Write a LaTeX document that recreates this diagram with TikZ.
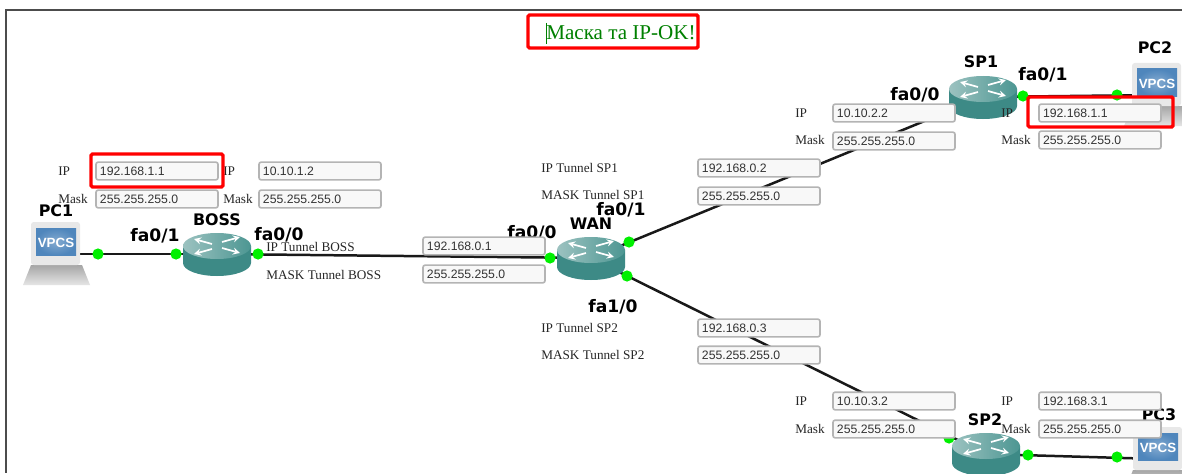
\documentclass[tikz,border=0pt]{standalone}
\usepackage{fontspec}
\setmainfont{Liberation Serif}
\newfontfamily\boxfont{Liberation Sans}
\newfontfamily\devfont{DejaVu Sans}
\usepackage{tikz}
\usetikzlibrary{positioning}
\definecolor{rtrteal}{HTML}{3D8A86}
\definecolor{rtrtop}{HTML}{9CC2C0}
\definecolor{rtredge}{HTML}{4C9692}
\definecolor{boxedge}{HTML}{B4B4B4}
\definecolor{boxfill}{HTML}{F8F8F8}
\definecolor{linkdot}{HTML}{00F000}
\definecolor{scrblue}{HTML}{4F86BC}
\definecolor{scrpale}{HTML}{8FB2D4}
\tikzset{
  link/.style={line width=2.5*0.71pt,black!90},
  portdot/.style={circle,fill=linkdot,inner sep=0pt,minimum size=0.28cm},
  valbox/.style={draw=boxedge,line width=1.6*0.71pt,fill=boxfill,rounded corners=1.5pt,
    minimum width=3.05cm,text width=2.85cm,minimum height=0.44cm,inner xsep=0.1cm,inner ysep=0pt,
    align=left,text=black!80,font=\boxfont\fontsize{8.7}{10}\selectfont},
  lbl/.style={anchor=west,inner sep=0pt,text=black!85,font=\fontsize{9.4}{11}\selectfont},
  port/.style={inner sep=0pt,font=\devfont\bfseries\fontsize{12.2}{14}\selectfont},
  devname/.style={inner sep=0pt,font=\devfont\bfseries\fontsize{11.3}{13}\selectfont},
  redbox/.style={draw=red,line width=3.4*0.71pt,rounded corners=1pt},
  rtrarrow/.style={draw=white,line width=1.7*0.71pt,-stealth}
}
\newcommand{\routericon}[1]{
\begin{scope}[shift={(#1)}]
\fill[rtrteal] (-34,-8) -- (-34,9) arc[start angle=180,end angle=0,x radius=34,y radius=13] -- (34,-8) -- cycle;
\shade[left color=rtrtop,right color=rtredge] (0,-8) ellipse [x radius=34,y radius=13];
\draw[rtrarrow] (-5,-10) -- (-23,-15);
\draw[rtrarrow] (5,-12) -- (23,-17);
\draw[rtrarrow] (-5,-5) -- (-23,0);
\draw[rtrarrow] (5,-6) -- (23,-1);
\end{scope}
}
\newcommand{\pcicon}[1]{
\begin{scope}[shift={(#1)}]
\shade[top color=black!35,bottom color=black!10] (-25,11) -- (-33,31) -- (34,31) -- (26,11) -- cycle;
\fill[black!9,rounded corners=2pt] (-25,-32) rectangle (24,11);
\shade[inner color=scrblue!70!white,outer color=scrblue] (-20,-26) rectangle (20,1);
\draw(0,-11) node[inner sep=0pt,text=white] {\boxfont\bfseries\fontsize{9.5}{11}\selectfont VPCS};
\end{scope}
}
\begin{document}
\begin{tikzpicture}[x=0.025cm,y=-0.025cm]
\clip (0,0) rectangle (1182,473);
\fill[white] (0,0) rectangle (1182,473);
\draw[black!70,line width=1.1pt] (1182,10) -- (6,10) -- (6,473);
% devices
\coordinate (pc1) at (56,254);
\coordinate (boss) at (217,254);
\coordinate (wan) at (591,258);
\coordinate (sp1) at (983,97);
\coordinate (sp2) at (986,454);
\coordinate (pc2) at (1157,95);
\coordinate (pc3) at (1158,459);
\draw[link] (pc1) -- (boss);
\draw[link] (boss) -- (wan);
\draw[link] (wan) -- (sp1);
\draw[link] (wan) -- (sp2);
\draw[link] (sp1) -- (pc2);
\draw[link] (sp2) -- (pc3);
\pcicon{pc1}
\pcicon{pc2}
\pcicon{pc3}
\routericon{boss}
\routericon{wan}
\routericon{sp1}
\routericon{sp2}
% ports
\draw(98,254) node[portdot] (d1) {};
\draw(176,254) node[portdot] (d2) {};
\draw(258,254) node[portdot] (d3) {};
\draw(550,258) node[portdot] (d4) {};
\draw(629,242) node[portdot] (d5) {};
\draw(627,276) node[portdot] (d6) {};
\draw(1023,96) node[portdot] (d7) {};
\draw(1117,95) node[portdot] (d8) {};
\draw(949,438) node[portdot] (d9) {};
\draw(1028,455) node[portdot] (d10) {};
\draw(1117,457) node[portdot] (d11) {};
\draw(56,211) node[devname] (n1) {PC1};
\draw(217,220) node[devname] (n2) {BOSS};
\draw(591,224) node[devname] (n3) {WAN};
\draw(981,62) node[devname] (n4) {SP1};
\draw(1155,48) node[devname] (n5) {PC2};
\draw(985,420) node[devname] (n6) {SP2};
\draw(1159,415) node[devname] (n7) {PC3};
\draw(155,236) node[port] (p1) {fa0/1};
\draw(279,235) node[port] (p2) {fa0/0};
\draw(532,233) node[port] (p3) {fa0/0};
\draw(621,210) node[port] (p4) {fa0/1};
\draw(613,307) node[port] (p5) {fa1/0};
\draw(915,95) node[port] (p6) {fa0/0};
\draw(1043,75) node[port] (p7) {fa0/1};
% value boxes
\draw(157,171) node[valbox] (ip1) {192.168.1.1};
\draw(157,199) node[valbox] (mask1) {255.255.255.0};
\draw(320,171) node[valbox] (ip2) {10.10.1.2};
\draw(320,199) node[valbox] (mask2) {255.255.255.0};
\draw(484,246) node[valbox] (ip3) {192.168.0.1};
\draw(484,274) node[valbox] (mask3) {255.255.255.0};
\draw(759,168) node[valbox] (ip4) {192.168.0.2};
\draw(759,196) node[valbox] (mask4) {255.255.255.0};
\draw(894,113) node[valbox] (ip5) {10.10.2.2};
\draw(894,141) node[valbox] (mask5) {255.255.255.0};
\draw(1100,113) node[valbox] (ip6) {192.168.1.1};
\draw(1100,140) node[valbox] (mask6) {255.255.255.0};
\draw(759,328) node[valbox] (ip7) {192.168.0.3};
\draw(759,355) node[valbox] (mask7) {255.255.255.0};
\draw(894,401) node[valbox] (ip8) {10.10.3.2};
\draw(894,429) node[valbox] (mask8) {255.255.255.0};
\draw(1100,401) node[valbox] (ip9) {192.168.3.1};
\draw(1100,429) node[valbox] (mask9) {255.255.255.0};
% captions
\draw(58,171) node[lbl] (l1) {IP};
\draw(58,199) node[lbl] (l2) {Mask};
\draw(223,171) node[lbl] (l3) {IP};
\draw(223,199) node[lbl] (l4) {Mask};
\draw(266,247) node[lbl] (l5) {IP Tunnel BOSS};
\draw(266,275) node[lbl] (l6) {MASK Tunnel BOSS};
\draw(541,168) node[lbl] (l7) {IP Tunnel SP1};
\draw(541,195) node[lbl] (l8) {MASK Tunnel SP1};
\draw(795,113) node[lbl] (l9) {IP};
\draw(795,140) node[lbl] (l10) {Mask};
\draw(1001,113) node[lbl] (l11) {IP};
\draw(1001,140) node[lbl] (l12) {Mask};
\draw(541,328) node[lbl] (l13) {IP Tunnel SP2};
\draw(541,355) node[lbl] (l14) {MASK Tunnel SP2};
\draw(795,401) node[lbl] (l15) {IP};
\draw(795,429) node[lbl] (l16) {Mask};
\draw(1001,401) node[lbl] (l17) {IP};
\draw(1001,429) node[lbl] (l18) {Mask};
% highlights
\draw(546,33) node[anchor=west,inner sep=0pt,text=green!50!black,font=\fontsize{15}{18}\selectfont] (title) {Маска та IP-OK!};
\draw[black!50!green,line width=0.5pt] (546,23) -- (546,44);
\draw[redbox] (528,15) rectangle (698,48);
\draw[redbox] (91,154) rectangle (223,187);
\draw[redbox] (1028,97) rectangle (1173,127);
\end{tikzpicture}
\end{document}
